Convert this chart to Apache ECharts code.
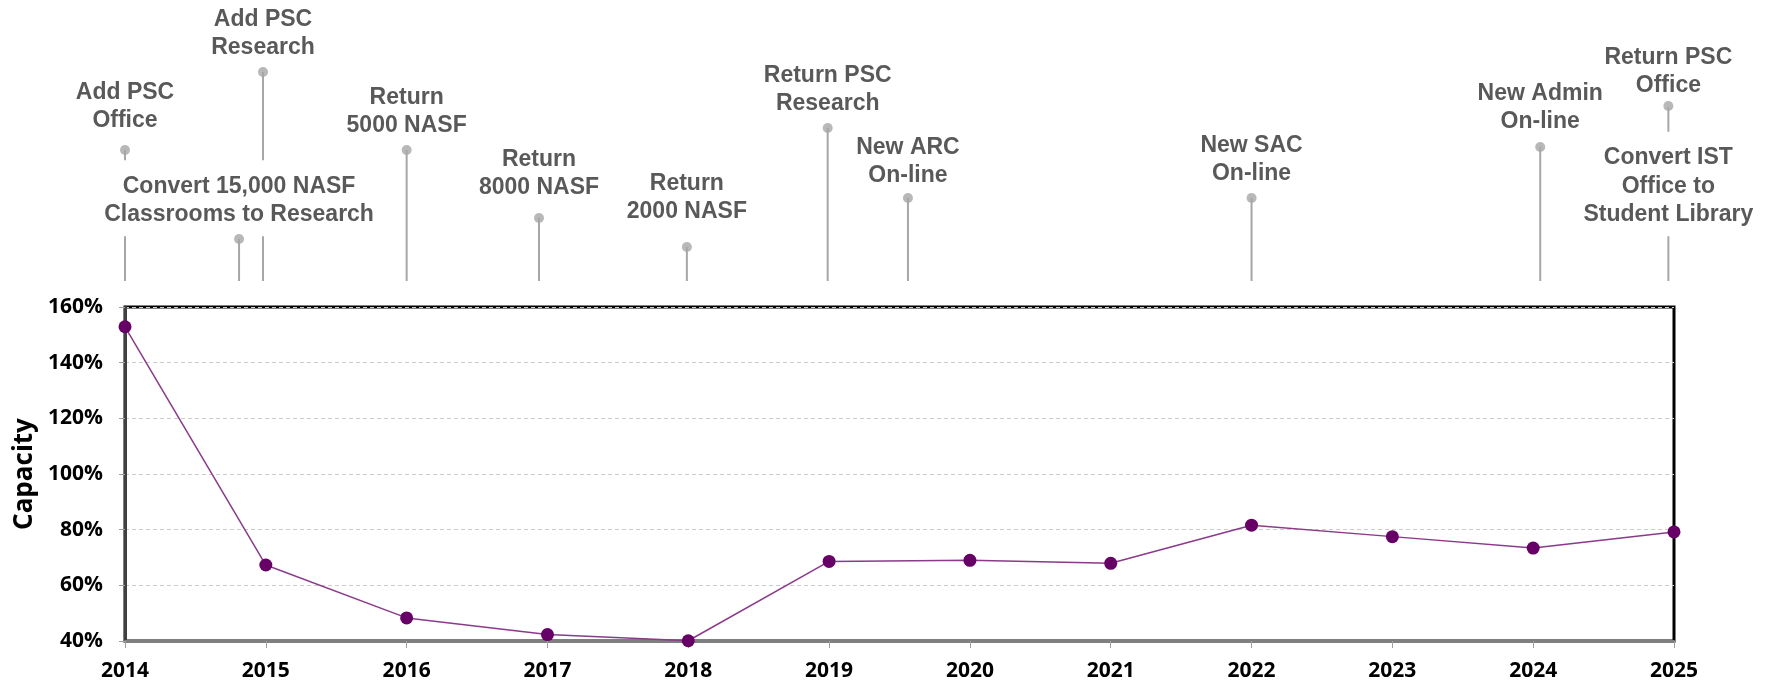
<!DOCTYPE html>
<html>
<head>
<meta charset="utf-8">
<script src="https://cdn.jsdelivr.net/npm/echarts@6/dist/echarts.min.js"></script>
<style>
  html, body { margin: 0; padding: 0; background: #fff; }
  #chart { width: 1766px; height: 684px; }
</style>
</head>
<body>
<div id="chart"></div>
<script>
// capacity by year
var years = [2014, 2015, 2016, 2017, 2018, 2019, 2020, 2021, 2022, 2023, 2024, 2025]
var capacity = [152.9, 67.3, 48.3, 42.3, 40.1, 68.6, 69.0, 67.9, 81.6, 77.5, 73.4, 79.2]
var yTicks = [40, 60, 80, 100, 120, 140, 160]

// timeline events above the chart (x in years, heights above the timeline baseline)
var eventLabels = [
  'Add PSC\nOffice',
  'Add PSC\nResearch',
  'Convert 15,000 NASF\nClassrooms to Research',
  'Return\n5000 NASF',
  'Return\n8000 NASF',
  'Return\n2000 NASF',
  'Return PSC\nResearch',
  'New ARC\nOn-line',
  'New SAC\nOn-line',
  'New Admin\nOn-line',
  'Return PSC\nOffice',
  'Convert IST\nOffice to\nStudent Library'
]
var eventYears = [2014.0, 2014.98, 2014.81, 2016.0, 2016.94, 2017.99, 2018.99, 2019.56, 2022.0, 2024.05, 2024.96, 2024.96]
var eventPinHeights = [131, 209, 42, 131, 63, 34, 153, 83, 83, 134, 175, null]
var eventLabelHeights = [160, 233, 66, 155, 93, 69, 177, 105, 107, 159, 195, 66]

var chart = echarts.init(document.getElementById('chart'))

var annoFont = 'bold 23px "Liberation Sans", Arial, sans-serif'
var annoLineH = 28.5
var annoPad = [12, 0, 7, 0]

var pinData = []
eventYears.forEach(function (x, i) {
  if (eventPinHeights[i] != null) pinData.push([x, eventPinHeights[i]])
})
var labelData = eventYears.map(function (x, i) { return [x, eventLabelHeights[i]] })

var option = {
  animation: false,
  grid: [
    {
      left: 125, right: 92, top: 307, bottom: 43,
      show: true, borderColor: '#000', borderWidth: 3
    },
    { left: 125, right: 92, top: 0, height: 281 }
  ],
  xAxis: [
    {
      type: 'value', gridIndex: 0,
      min: 2014, max: 2025, interval: 1,
      axisLine: { show: true, lineStyle: { color: '#7f7f7f', width: 3 } },
      axisTick: { show: true, length: 7, lineStyle: { color: '#a0a0a0' } },
      splitLine: { show: false },
      axisLabel: {
        margin: 20,
        color: '#000',
        fontFamily: '"Open Sans", sans-serif',
        fontWeight: 'bold',
        fontSize: 21,
        formatter: function (v) { return String(v) }
      }
    },
    { type: 'value', gridIndex: 1, min: 2014, max: 2025, show: false }
  ],
  yAxis: [
    {
      type: 'value', gridIndex: 0,
      min: yTicks[0], max: yTicks[yTicks.length - 1], interval: 20,
      name: 'Capacity',
      nameLocation: 'middle',
      nameGap: 85,
      nameTextStyle: {
        color: '#000',
        fontFamily: '"Open Sans", sans-serif',
        fontWeight: 'bold',
        fontSize: 26
      },
      axisLine: { show: true, lineStyle: { color: '#404040', width: 3 } },
      axisTick: { show: true, length: 6, lineStyle: { color: '#a0a0a0' } },
      splitLine: { show: true, lineStyle: { color: '#cccccc', type: [4, 3], width: 1 } },
      axisLabel: {
        margin: 22,
        color: '#000',
        fontFamily: '"Open Sans", sans-serif',
        fontWeight: 'bold',
        fontSize: 21,
        padding: [4, 0, 0, 0],
        formatter: '{value}%'
      }
    },
    { type: 'value', gridIndex: 1, min: 0, max: 281, show: false }
  ],
  series: [
    {
      type: 'line',
      xAxisIndex: 0, yAxisIndex: 0,
      data: years.map(function (y, i) { return [y, capacity[i]] }),
      clip: false,
      symbol: 'circle',
      symbolSize: 13,
      lineStyle: { color: '#8a3a8a', width: 1.5 },
      itemStyle: { color: '#660066' },
      z: 5
    },
    // stems
    {
      type: 'custom',
      xAxisIndex: 1, yAxisIndex: 1,
      data: pinData,
      z: 2,
      renderItem: function (params, api) {
        var top = api.coord([api.value(0), api.value(1)])
        var base = api.coord([api.value(0), 0])
        return {
          type: 'line',
          shape: { x1: top[0], y1: top[1], x2: base[0], y2: base[1] },
          style: { stroke: '#a6a6a6', lineWidth: 2 }
        }
      }
    },
    // event texts (white box hides the stems behind them)
    {
      type: 'custom',
      xAxisIndex: 1, yAxisIndex: 1,
      data: labelData,
      z: 3,
      renderItem: function (params, api) {
        var p = api.coord([api.value(0), api.value(1)])
        return {
          type: 'text',
          x: p[0],
          y: p[1] + annoLineH / 2 + annoPad[2],
          style: {
            text: eventLabels[params.dataIndex],
            font: annoFont,
            fill: '#595959',
            align: 'center',
            verticalAlign: 'bottom',
            lineHeight: annoLineH,
            backgroundColor: '#fff',
            padding: annoPad
          }
        }
      }
    },
    // pin heads
    {
      type: 'scatter',
      xAxisIndex: 1, yAxisIndex: 1,
      data: pinData,
      symbol: 'circle',
      symbolSize: 10,
      itemStyle: { color: '#a6a6a6' },
      z: 4
    }
  ]
}

chart.setOption(option)
</script>
</body>
</html>
